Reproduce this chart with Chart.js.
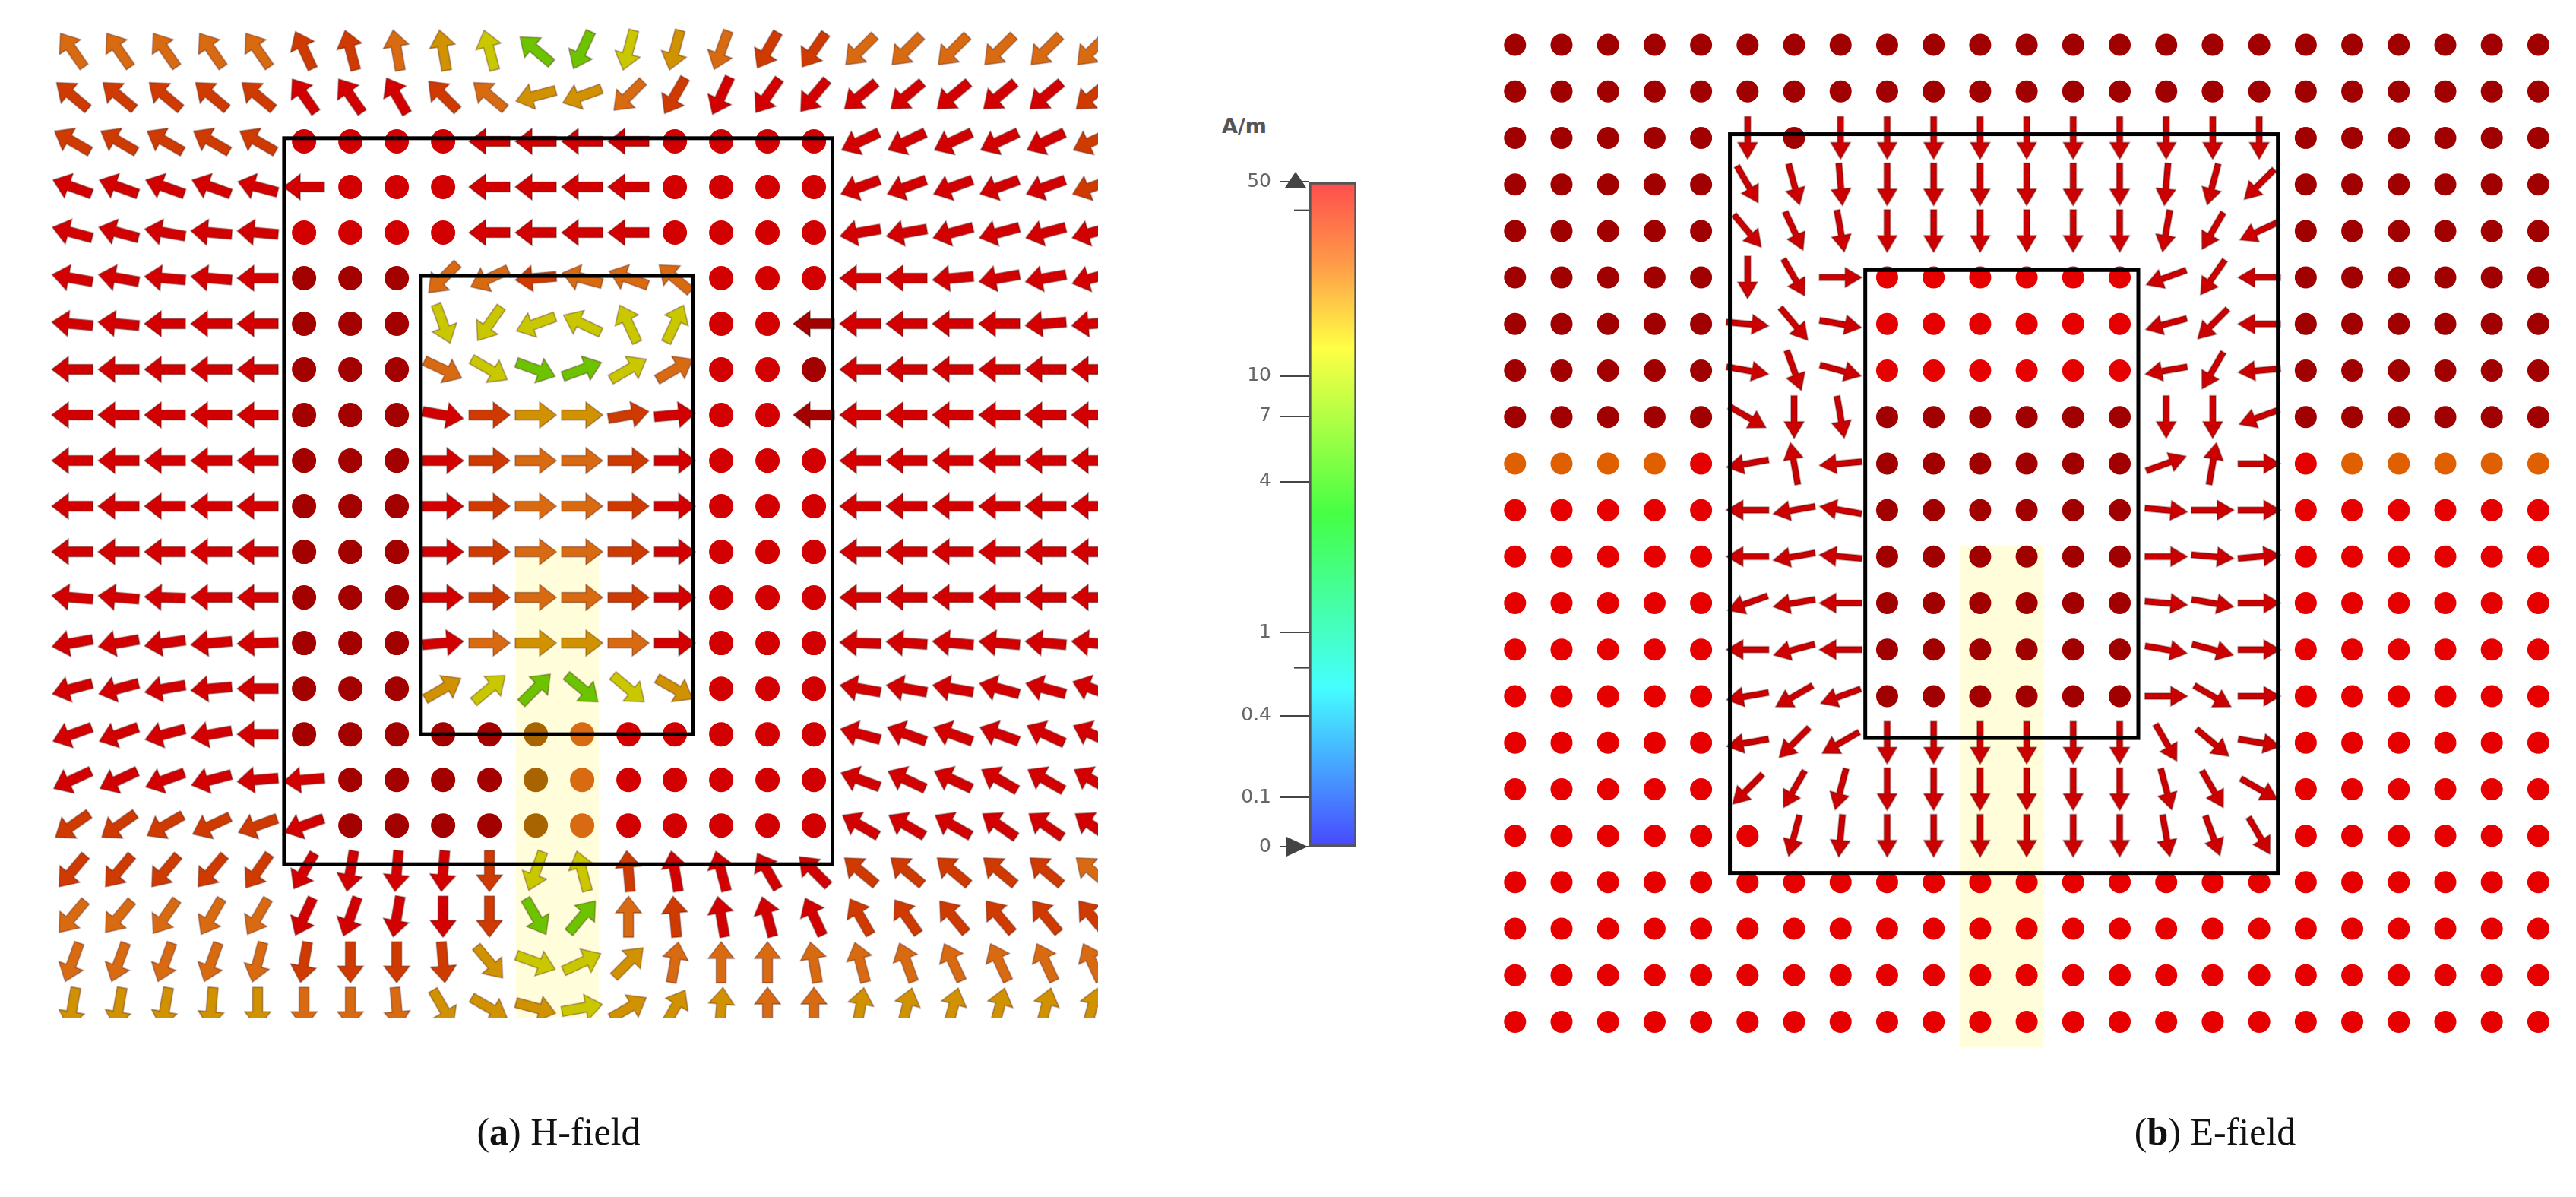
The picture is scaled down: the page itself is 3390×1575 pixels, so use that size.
<!DOCTYPE html>
<html>
<head>
<meta charset="utf-8">
<script src="https://cdn.jsdelivr.net/npm/chart.js@4.4.1/dist/chart.umd.min.js"></script>
<style>
  body { margin: 0; background: #fff; width: 3390px; height: 1575px; position: relative; overflow: hidden; }
  canvas { position: absolute; }
  .cap { position: absolute; font-family: "Liberation Serif", serif; font-size: 50px; color: #111; transform: translateX(-50%); white-space: nowrap; }
  .unit { position: absolute; left: 1608px; top: 150px; font-family: "DejaVu Sans", sans-serif; font-weight: bold; font-size: 27px; color: #555; }
</style>
</head>
<body>
<canvas id="hfield" width="1395" height="1304" style="left:50px;top:36px"></canvas>
<canvas id="efield" width="1395" height="1355" style="left:1965px;top:25px"></canvas>
<canvas id="cbar" width="195" height="950" style="left:1600px;top:200px"></canvas>
<div class="unit">A/m</div>
<div class="cap" style="left:735px;top:1460px">(<b>a</b>) H-field</div>
<div class="cap" style="left:2915px;top:1460px">(<b>b</b>) E-field</div>
<script>
// arrow direction in degrees (0 = right, 90 = up), "." = dot (field normal to plane)
const H_ANGLES = [
  "125 125 125 125 125 115 105 100 100 105 140 245 255 255 250 240 235 225 225 225 225 225 225",
  "140 140 140 140 140 125 125 120 135 140 195 200 225 240 245 235 230 220 220 220 220 220 220",
  "150 150 150 150 150 . . . . 180 180 180 180 . . . . 205 205 205 205 205 205",
  "160 160 160 160 165 180 . . . 180 180 180 180 . . . . 200 200 200 200 200 200",
  "165 165 170 175 175 . . . . 180 180 180 180 . . . . 190 190 195 195 195 195",
  "170 170 175 175 180 . . . 225 205 185 165 160 140 . . . 180 180 185 190 190 195",
  "175 175 180 180 180 . . . 290 235 200 155 115 65 . . 180 180 180 180 180 185 185",
  "180 180 180 180 180 . . . 335 330 340 20 30 30 . . . 180 180 180 180 180 180",
  "180 180 180 180 180 . . . 350 0 0 0 10 5 . . 180 180 180 180 180 180 180",
  "180 180 180 180 180 . . . 0 0 0 0 0 0 . . . 180 180 180 180 180 180",
  "180 180 180 180 180 . . . 0 0 0 0 0 0 . . . 180 180 180 180 180 180",
  "180 180 180 180 180 . . . 0 0 0 0 0 0 . . . 180 180 180 180 180 180",
  "175 175 178 180 180 . . . 0 0 0 0 0 0 . . . 180 180 180 180 180 180",
  "190 190 188 185 182 . . . 5 0 0 0 0 0 . . . 178 176 175 175 175 175",
  "195 195 190 185 180 . . . 30 40 45 320 320 330 . . . 170 170 170 165 165 160",
  "200 200 195 190 180 . . . . . . . . . . . . 165 160 160 160 155 155",
  "205 205 200 195 185 185 . . . . . . . . . . . 160 155 155 150 150 150",
  "215 215 210 205 200 200 . . . . . . . . . . . 150 150 150 145 145 145",
  "230 230 230 230 235 240 260 265 265 270 250 105 95 100 105 120 135 140 140 140 140 140 140",
  "230 230 235 240 240 245 250 260 270 270 300 50 90 95 100 105 115 120 125 130 130 130 130",
  "250 250 250 250 255 260 270 270 275 310 340 25 45 80 90 90 100 105 110 115 115 115 115",
  "260 260 260 265 270 270 270 275 300 330 345 10 30 60 85 90 90 80 75 75 75 75 75"
];
const H_COLORS = [
  "oooooOOoAYGGYAoOOoooooo",
  "OOOOORRROoAAoORRRRRRRRO",
  "OOOOORRRRRRRRRRRRRRRRRO",
  "RRRRRRRRRRRRRRRRRRRRRRO",
  "RRRRRRRRRRRRRRRRRRRRRRR",
  "RRRRRDDDooOoooRRRRRRRRR",
  "RRRRRDDDYYYYYYRRDRRRRRR",
  "RRRRRDDDoYGGYoRRDRRRRRR",
  "RRRRRDDDROAAORRRDRRRRRR",
  "RRRRRDDDROooORRRRRRRRRR",
  "RRRRRDDDROooORRRRRRRRRR",
  "RRRRRDDDROooORRRRRRRRRR",
  "RRRRRDDDROooORRRRRRRRRR",
  "RRRRRDDDRoAAoRRRRRRRRRR",
  "RRRRRDDDAYGGYARRRRRRRRR",
  "RRRRRDDDDDBoRRRRRRRRRRR",
  "RRRRRRDDDDBoRRRRRRRRRRR",
  "OOOOORDDDDBoRRRRRRRRRRR",
  "OOOOORRRROYYORRRROOOOOo",
  "oooooRRRROGGoORRROOOOOO",
  "oooooOOOOAYYAoooooooooo",
  "AAAAAoooAAAYAAAooAAAAAA"
];
const E_ANGLES = [
  ". . . . . . . . . . . . . . . . . . . . . . .",
  ". . . . . . . . . . . . . . . . . . . . . . .",
  ". . . . . 270 . 270 270 270 270 270 270 270 270 270 270 . . . . . .",
  ". . . . . 300 285 275 270 270 270 270 270 270 265 255 225 . . . . . .",
  ". . . . . 310 295 280 270 270 270 270 270 270 260 240 205 . . . . . .",
  ". . . . . 270 300 0 . . . . . . 200 235 180 . . . . . .",
  ". . . . . 355 310 350 . . . . . . 195 225 180 . . . . . .",
  ". . . . . 350 290 345 . . . . . . 190 240 185 . . . . . .",
  ". . . . . 330 270 280 . . . . . . 270 270 200 . . . . . .",
  ". . . . . 190 100 185 . . . . . . 20 80 0 . . . . . .",
  ". . . . . 180 190 170 . . . . . . 355 0 0 . . . . . .",
  ". . . . . 180 190 175 . . . . . . 0 355 5 . . . . . .",
  ". . . . . 200 190 180 . . . . . . 355 350 0 . . . . . .",
  ". . . . . 180 195 180 . . . . . . 350 345 0 . . . . . .",
  ". . . . . 190 210 200 . . . . . . 0 330 0 . . . . . .",
  ". . . . . 190 225 210 270 270 270 270 270 270 300 320 350 . . . . . .",
  ". . . . . 225 240 255 270 270 270 270 270 270 285 300 330 . . . . . .",
  ". . . . . . 255 265 270 270 270 270 270 270 280 290 300 . . . . . .",
  ". . . . . . . . . . . . . . . . . . . . . . .",
  ". . . . . . . . . . . . . . . . . . . . . . .",
  ". . . . . . . . . . . . . . . . . . . . . . .",
  ". . . . . . . . . . . . . . . . . . . . . . ."
];
const E_COLORS = [
  "DDDDDDDDDDDDDDDDDDDDDDD",
  "DDDDDDDDDDDDDDDDDDDDDDD",
  "DDDDDRDRRRRRRRRRRDDDDDD",
  "DDDDDRRRRRRRRRRRRDDDDDD",
  "DDDDDRRRRRRRRRRRRDDDDDD",
  "DDDDDRRRBBBBBBRRRDDDDDD",
  "DDDDDRRRBBBBBBRRRDDDDDD",
  "DDDDDRRRBBBBBBRRRDDDDDD",
  "DDDDDRRRDDDDDDRRRDDDDDD",
  "ooooBRRRDDDDDDRRRBooooo",
  "BBBBBRRRDDDDDDRRRBBBBBB",
  "BBBBBRRRDDDDDDRRRBBBBBB",
  "BBBBBRRRDDDDDDRRRBBBBBB",
  "BBBBBRRRDDDDDDRRRBBBBBB",
  "BBBBBRRRDDDDDDRRRBBBBBB",
  "BBBBBRRRRRRRRRRRRBBBBBB",
  "BBBBBRRRRRRRRRRRRBBBBBB",
  "BBBBBBRRRRRRRRRRRBBBBBB",
  "BBBBBBBBBBBBBBBBBBBBBBB",
  "BBBBBBBBBBBBBBBBBBBBBBB",
  "BBBBBBBBBBBBBBBBBBBBBBB",
  "BBBBBBBBBBBBBBBBBBBBBBB"
];
const CB_TICKS = ["50", "10", "7", "4", "1", "0.4", "0.1", "0"];
const CB_POS = [0, 0.292, 0.353, 0.451, 0.678, 0.803, 0.926, 1.0];
const CB_MINOR = [0.043, 0.731];

const H_PALETTE = { R: "#d20000", D: "#a30000", O: "#cf3a00", o: "#d86a12", A: "#d09200", Y: "#c9c800", G: "#6cc400", B: "#a86400" };
const E_PALETTE = { R: "#cc0000", D: "#a10000", B: "#e60000", o: "#e06000" };

const arrowCache = {};
function arrowImage(color, len, shaft, headLen, headW) {
  const key = [color, len, shaft, headLen, headW].join();
  if (arrowCache[key]) return arrowCache[key];
  const c = document.createElement("canvas");
  c.width = c.height = len + 6;
  const g = c.getContext("2d");
  g.translate(c.width / 2, c.height / 2);
  const t = len / 2, b = -len / 2, n = t - headLen;
  g.beginPath();
  g.moveTo(b, -shaft / 2); g.lineTo(n, -shaft / 2); g.lineTo(n, -headW / 2); g.lineTo(t, 0);
  g.lineTo(n, headW / 2); g.lineTo(n, shaft / 2); g.lineTo(b, shaft / 2); g.closePath();
  g.fillStyle = color; g.fill();
  g.strokeStyle = "rgba(60,0,0,.4)"; g.lineWidth = 1.5; g.stroke();
  arrowCache[key] = c;
  return c;
}

function gridPoints(angles, colors, palette) {
  const pts = [];
  angles.forEach((row, r) => {
    row.trim().split(/\s+/).forEach((v, c) => {
      pts.push({ x: c, y: r, a: v === "." ? null : +v, col: palette[colors[r][c]] });
    });
  });
  return pts;
}

const frames = {
  id: "frames",
  beforeDatasetsDraw(chart, args, o) {
    const { ctx, scales: { x, y } } = chart, h = o.highlight;
    ctx.save();
    ctx.fillStyle = "rgba(255,252,205,.75)";
    ctx.fillRect(x.getPixelForValue(h[0]), y.getPixelForValue(h[1]),
      x.getPixelForValue(h[2]) - x.getPixelForValue(h[0]), y.getPixelForValue(h[3]) - y.getPixelForValue(h[1]));
    ctx.restore();
  },
  afterDatasetsDraw(chart, args, o) {
    const { ctx, scales: { x, y } } = chart;
    ctx.save();
    ctx.strokeStyle = "#000"; ctx.lineWidth = 5;
    o.boxes.forEach(b => {
      ctx.strokeRect(x.getPixelForValue(b[0]), y.getPixelForValue(b[1]),
        x.getPixelForValue(b[2]) - x.getPixelForValue(b[0]), y.getPixelForValue(b[3]) - y.getPixelForValue(b[1]));
    });
    ctx.restore();
  }
};

function field(id, pts, xr, yr, arrow, dotR, boxes, highlight) {
  return new Chart(document.getElementById(id), {
    type: "scatter",
    data: { datasets: [{ data: pts, borderWidth: 0,
      backgroundColor: c => c.raw ? c.raw.col : "#c00",
      pointStyle: c => c.raw && c.raw.a !== null ? arrowImage(c.raw.col, ...arrow) : "circle",
      rotation: c => c.raw && c.raw.a !== null ? -c.raw.a : 0,
      pointRadius: c => c.raw && c.raw.a !== null ? arrow[0] / 2 : dotR }] },
    options: {
      responsive: false, animation: false, devicePixelRatio: 1,
      layout: { padding: 0, autoPadding: false },
      scales: { x: { type: "linear", min: xr[0], max: xr[1], display: false },
                y: { type: "linear", min: yr[0], max: yr[1], reverse: true, display: false } },
      plugins: { legend: { display: false }, tooltip: { enabled: false }, frames: { boxes, highlight } }
    },
    plugins: [frames]
  });
}

field("hfield", gridPoints(H_ANGLES, H_COLORS, H_PALETTE), [-0.74, 22.13], [-0.5, 21.23],
  [54, 13, 22, 34], 16, [[4.57, 1.93, 16.4, 17.85], [7.52, 4.95, 13.4, 15.0]], [9.57, 10.9, 11.36, 21.5]);
field("efield", gridPoints(E_ANGLES, E_COLORS, E_PALETTE), [-0.47, 22.32], [-0.556, 21.58],
  [56, 8, 22, 26], 14.5, [[4.62, 1.92, 16.4, 17.8], [7.53, 4.84, 13.4, 14.9]], [9.56, 10.76, 11.34, 21.55]);

const cbExtras = {
  id: "cbExtras",
  afterDraw(chart) {
    const { ctx, chartArea: a, scales: { y } } = chart;
    ctx.save();
    ctx.strokeStyle = "#444"; ctx.lineWidth = 2;
    CB_MINOR.forEach(v => { const p = y.getPixelForValue(v); ctx.beginPath(); ctx.moveTo(a.left - 20, p); ctx.lineTo(a.left, p); ctx.stroke(); });
    ctx.fillStyle = "#444";
    const t = y.getPixelForValue(0), bt = y.getPixelForValue(1);
    ctx.beginPath(); ctx.moveTo(a.left - 32, t + 8); ctx.lineTo(a.left - 18, t - 13); ctx.lineTo(a.left - 4, t + 8); ctx.closePath(); ctx.fill();
    ctx.beginPath(); ctx.moveTo(a.left - 30, bt - 13); ctx.lineTo(a.left - 2, bt); ctx.lineTo(a.left - 30, bt + 13); ctx.closePath(); ctx.fill();
    ctx.restore();
  }
};

new Chart(document.getElementById("cbar"), {
  type: "bar",
  data: { labels: [""], datasets: [{ data: [[0, 1]], borderColor: "#555", borderWidth: 3, borderSkipped: false,
    barPercentage: 1, categoryPercentage: 1,
    backgroundColor: c => {
      const a = c.chart.chartArea; if (!a) return "#f55";
      const g = c.chart.ctx.createLinearGradient(0, a.top, 0, a.bottom);
      g.addColorStop(0, "#ff4d4d"); g.addColorStop(0.12, "#ff9848"); g.addColorStop(0.25, "#ffff45");
      g.addColorStop(0.5, "#45ff45"); g.addColorStop(0.76, "#45ffff"); g.addColorStop(1, "#4848ff");
      return g;
    } }] },
  options: {
    responsive: false, animation: false, devicePixelRatio: 1,
    layout: { padding: { top: 39, bottom: 36, right: 10, left: 0 }, autoPadding: false },
    scales: {
      x: { display: false },
      y: { min: 0, max: 1, reverse: true,
        afterFit: s => { s.width = 123; },
        afterBuildTicks: s => { s.ticks = CB_POS.map(v => ({ value: v })); },
        ticks: { callback: (v, i) => CB_TICKS[i], color: "#666", padding: 11, autoSkip: false,
          font: { family: "DejaVu Sans", size: 25 } },
        grid: { drawOnChartArea: false, tickLength: 39, color: "#444", lineWidth: 2 },
        border: { display: false } }
    },
    plugins: { legend: { display: false }, tooltip: { enabled: false } }
  },
  plugins: [cbExtras]
});
</script>
</body>
</html>
